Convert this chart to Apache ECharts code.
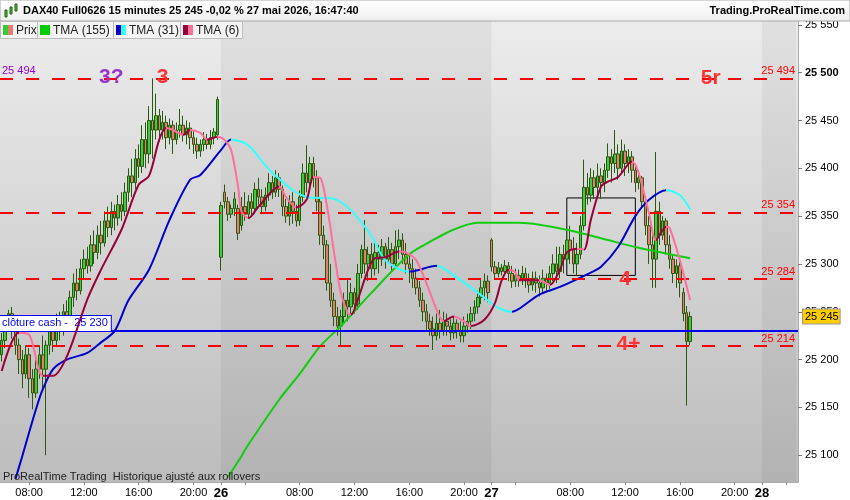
<!DOCTYPE html>
<html><head><meta charset="utf-8">
<script src="https://cdn.jsdelivr.net/npm/echarts@6/dist/echarts.min.js"></script>
<style>html,body{margin:0;padding:0;background:#fff}#c{width:850px;height:500px}</style>
</head><body><div id="c"></div>
<script>
// ---------- categories (15-minute bars) ----------
const days = ['25', '26', '27', '28'];
const dayFirst = ['06:00', '02:15', '02:15', '02:15'];
const dayLast = ['21:45', '21:45', '21:45', '04:45'];
const dayStartTime = '02:15';
const labelTimes = ['08:00', '12:00', '16:00', '20:00'];
const tickOnlyTimes = ['04:00'];

// ---------- candles [open, close, low, high] ----------
const day25 = [
[25205,25220,25198,25228],[25220,25235,25212,25245],[25235,25248,25230,25252],[25248,25230,25222,25255],
[25230,25215,25205,25238],[25215,25200,25185,25222],[25200,25185,25170,25210],[25185,25205,25180,25215],
[25205,25180,25160,25212],[25180,25165,25148,25190],[25165,25190,25160,25200],[25190,25205,25180,25215],
[25205,25190,25170,25225],[25190,25215,25100,25220],[25215,25230,25205,25245],[25230,25220,25208,25240],
[25220,25240,25215,25248],[25240,25232,25220,25250],[25232,25250,25225,25258],[25250,25245,25235,25262],
[25245,25265,25240,25272],[25265,25280,25255,25290],[25280,25272,25262,25295],[25272,25295,25268,25305],
[25295,25305,25285,25315],[25305,25298,25290,25318],[25298,25320,25292,25330],[25320,25312,25300,25335],
[25312,25330,25305,25340],[25330,25322,25310,25345],[25322,25345,25318,25355],[25345,25338,25328,25360],
[25338,25355,25330,25365],[25355,25348,25335,25362],[25348,25362,25340,25372],[25362,25355,25345,25375],
[25355,25375,25350,25385],[25375,25392,25365,25400],[25392,25385,25370,25410],[25385,25410,25378,25420],
[25410,25402,25390,25425],[25402,25430,25395,25445],[25430,25415,25400,25448],[25415,25450,25405,25465],
[25450,25440,25410,25494],[25440,25455,25430,25478],[25455,25440,25428,25462],[25440,25448,25430,25460],
[25448,25432,25420,25455],[25432,25445,25425,25452],[25445,25430,25415,25450],[25430,25440,25425,25448],
[25440,25445,25432,25462],[25445,25435,25428,25455],[25435,25442,25425,25450],[25442,25432,25420,25448],
[25432,25425,25415,25440],[25425,25418,25410,25432],[25418,25425,25412,25430],[25425,25430,25418,25438],
[25430,25425,25420,25436],[25425,25432,25420,25440],[25432,25438,25425,25442],[25435,25472,25430,25475]
];
const day26 = [
[25307,25361,25293,25365],[25375,25365,25358,25383],[25365,25352,25345,25370],[25352,25358,25348,25362],
[25358,25368,25350,25375],[25358,25332,25325,25362],[25340,25360,25335,25370],[25360,25352,25345,25375],
[25352,25365,25348,25372],[25365,25358,25350,25374],[25358,25378,25352,25385],[25378,25370,25362,25390],
[25370,25360,25352,25378],[25360,25372,25355,25380],[25372,25385,25366,25395],[25385,25375,25368,25392],
[25375,25390,25370,25398],[25390,25378,25370,25395],[25378,25360,25350,25382],[25360,25350,25343,25368],
[25350,25365,25340,25372],[25365,25355,25342,25375],[25355,25345,25339,25362],[25345,25370,25340,25377],
[25370,25395,25365,25405],[25395,25385,25375,25424],[25385,25405,25378,25412],[25405,25390,25380,25412],
[25390,25365,25355,25398],[25365,25330,25320,25370],[25330,25320,25305,25340],[25320,25280,25272,25325],
[25280,25262,25255,25300],[25262,25245,25235,25270],[25245,25235,25225,25255],[25235,25245,25215,25252],
[25245,25262,25238,25270],[25262,25255,25240,25285],[25255,25270,25245,25280],[25270,25258,25248,25275],
[25258,25290,25252,25300],[25290,25315,25285,25320],[25315,25300,25290,25346],[25300,25310,25282,25318],
[25310,25295,25285,25322],[25295,25312,25288,25325],[25312,25305,25290,25320],[25305,25318,25298,25326],
[25318,25305,25295,25322],[25305,25315,25300,25328],[25315,25300,25292,25322],[25300,25318,25295,25335],
[25318,25325,25305,25336],[25325,25310,25300,25332],[25310,25300,25290,25322],[25300,25295,25280,25310],
[25295,25285,25275,25305],[25285,25275,25268,25295],[25275,25262,25255,25282],[25262,25250,25240,25270],
[25250,25240,25231,25258],[25240,25232,25225,25248],[25232,25225,25210,25245],[25225,25238,25220,25248],
[25238,25230,25222,25252],[25230,25240,25225,25250],[25240,25235,25225,25248],[25235,25228,25220,25242],
[25228,25238,25222,25245],[25238,25230,25222,25242],[25230,25225,25218,25240],[25225,25235,25218,25245],
[25235,25240,25228,25248],[25240,25248,25232,25255],[25248,25255,25240,25262],[25255,25265,25248,25272],
[25265,25275,25258,25285],[25275,25282,25262,25290],[25282,25270,25260,25288]
];
const day27 = [
[25325,25297,25292,25327],[25297,25290,25285,25303],[25290,25296,25286,25302],[25296,25292,25288,25300],
[25292,25298,25290,25304],[25298,25290,25282,25302],[25290,25282,25275,25298],[25282,25288,25276,25295],
[25288,25283,25276,25294],[25283,25290,25278,25298],[25290,25284,25275,25296],[25284,25278,25270,25290],
[25278,25285,25272,25292],[25285,25280,25270,25292],[25280,25275,25266,25288],[25275,25285,25270,25294],
[25285,25280,25272,25290],[25280,25290,25274,25298],[25290,25300,25282,25310],[25300,25292,25280,25318],
[25292,25310,25285,25318],[25310,25305,25290,25320],[25305,25325,25298,25335],[25325,25315,25300,25340],
[25315,25300,25290,25328],[25300,25310,25288,25322],[25310,25340,25305,25350],[25340,25380,25335,25409],
[25380,25372,25362,25395],[25372,25390,25365,25400],[25390,25380,25368,25398],[25380,25392,25370,25405],
[25392,25385,25368,25400],[25385,25398,25375,25405],[25398,25412,25390,25426],[25412,25405,25385,25420],
[25405,25415,25395,25440],[25415,25400,25388,25425],[25400,25418,25395,25430],[25418,25405,25392,25425],
[25405,25412,25395,25420],[25412,25398,25385,25418],[25398,25385,25375,25402],[25385,25390,25378,25398],
[25390,25365,25358,25392],[25365,25340,25330,25370],[25340,25320,25300,25350],[25320,25305,25275,25330],
[25305,25355,25275,25417],[25355,25330,25320,25365],[25330,25345,25325,25350],[25345,25320,25310,25348],
[25320,25305,25295,25330],[25305,25290,25280,25310],[25290,25298,25275,25305],[25298,25280,25265,25302],
[25270,25248,25240,25275],[25249,25219,25152,25256],[25219,25245,25215,25250]
];

// ---------- moving averages: [bar index, value] read at visible knots ----------
const tma155 = [[66,25077],[70,25099],[72,25111],[81,25158],[87,25185],[93,25214],[99,25235],[108,25270],
  [119,25310],[125,25323],[132,25336],[139,25343],[151,25343],[157,25341],[166,25335],[177,25325],[186,25317],[201,25306]];
const tma31 = [[4,25075],[6,25099],[10,25148],[12,25169],[15,25190],[19,25200],[25,25207],[29,25218],[33,25230],
  [37,25262],[43,25294],[49,25346],[55,25388],[58,25393],[64,25419],[67,25430],[72,25424],[77,25403],[80,25392],
  [85,25377],[89,25370],[93,25369],[97,25368],[102,25356],[108,25329],[112,25304],[119,25292],[127,25298],
  [132,25288],[139,25270],[145,25254],[149,25250],[151,25253],[157,25268],[163,25276],[172,25291],[175,25297],
  [180,25318],[185,25350],[189,25367],[194,25377],[198,25372],[201,25357]];
const tma6 = [[0,25188],[5,25228],[8,25226],[12,25183],[15,25183],[19,25203],[25,25263],[29,25294],[35,25336],
  [40,25383],[43,25392],[46,25430],[48,25442],[50,25440],[53,25435],[55,25440],[58,25437],[60,25430],[63,25433],
  [65,25430],[67,25419],[69,25381],[70,25355],[72,25348],[75,25360],[81,25381],[83,25370],[86,25359],[89,25367],
  [91,25391],[93,25390],[95,25360],[97,25313],[99,25270],[101,25249],[102,25247],[104,25263],[107,25294],
  [109,25306],[112,25307],[116,25313],[118,25312],[121,25304],[124,25280],[127,25252],[129,25240],[132,25245],
  [135,25240],[137,25235],[141,25242],[144,25259],[146,25283],[148,25294],[150,25291],[151,25283],[157,25283],
  [160,25278],[163,25294],[165,25312],[168,25316],[170,25315],[172,25346],[175,25381],[177,25386],[180,25391],
  [184,25407],[186,25395],[189,25353],[191,25325],[194,25339],[195,25338],[198,25304],[201,25262]];

// ---------- levels and notes ----------
const redLevels = [25494, 25354, 25284, 25214];
const topLeftLevel = 25494;
const cashClose = 25230;
const lastPrice = 25245;
const notes = [['3?', 32, 25495, '#9933cc'], ['3', 47, 25495, '#ff3333'], ['5r', 207, 25494, '#ff3333'],
               ['4', 182, 25284, '#ff3333'], ['4+', 183, 25216, '#ff3333']];
const boxCorners = [[165, 25369], [185, 25288]];
const headerText = 'DAX40 Full0626 15 minutes 25 245 -0,02 % 27 mai 2026, 16:47:40';
const siteText = 'Trading.ProRealTime.com';
const footText = 'ProRealTime Trading  Historique ajusté aux rollovers';
const legendItems = [['Prix', '#33cc33', '#e87a70'], ['TMA (155)', '#00cc00', '#00cc00'],
                     ['TMA (31)', '#0000cc', '#33ffff'], ['TMA (6)', '#99003a', '#ff6f9a']];

// ---------- build ----------
const FONT = '"Liberation Sans", Arial, sans-serif';
const fmt = v => String(Math.round(v)).replace(/\B(?=(\d{3})+(?!\d))/g, ' ');
const cats = [];
days.forEach((d, k) => {
  const [h0, m0] = dayFirst[k].split(':').map(Number), [h1, m1] = dayLast[k].split(':').map(Number);
  for (let t = h0 * 60 + m0; t <= h1 * 60 + m1; t += 15) {
    cats.push(d + ' ' + String(Math.floor(t / 60)).padStart(2, '0') + ':' + String(t % 60).padStart(2, '0'));
  }
});
const candles = day25.concat(day26, day27);

function slopePieces(k, up, down) {
  const p = [];
  for (let j = 0; j < k.length - 1; j++) {
    const c = k[j + 1][1] >= k[j][1] ? up : down;
    const last = p[p.length - 1];
    if (last && last.color === c) last.lt = k[j + 1][0];
    else p.push({ gte: k[j][0], lt: k[j + 1][0], color: c });
  }
  p[0].gte = -10;
  p[p.length - 1].lt = 10000;
  return p;
}

const lg = (a, b) => new echarts.graphic.LinearGradient(0, 0, 0, 1, [{ offset: 0, color: a }, { offset: 1, color: b }]);

const redLine = { color: '#ff0000', type: [13, 13], width: 2 };
const markLines = [];
redLevels.forEach(v => markLines.push({
  yAxis: v, lineStyle: redLine,
  label: { show: true, position: 'insideEndTop', distance: [3, 2], formatter: fmt(v), color: '#ff0000', fontSize: 11, fontFamily: FONT }
}));
markLines.push({
  yAxis: topLeftLevel, lineStyle: redLine,
  label: { show: true, position: 'insideStartTop', distance: [2, 2], formatter: fmt(topLeftLevel), color: '#9900cc', fontSize: 11, fontFamily: FONT }
});
markLines.push({
  yAxis: cashClose, lineStyle: { color: '#0000ee', type: 'solid', width: 2 },
  label: { show: true, position: 'insideStartTop', distance: [0, 0], formatter: 'clôture cash -  ' + fmt(cashClose),
    color: '#0000ee', fontSize: 11, fontFamily: FONT, backgroundColor: '#fff', borderColor: '#0000ee', borderWidth: 1, padding: [2, 3, 2, 2] }
});
markLines.push({
  yAxis: lastPrice, lineStyle: { color: 'rgba(0,0,0,0)', width: 0 },
  label: { show: true, position: 'end', distance: 5, formatter: fmt(lastPrice), color: '#000', fontSize: 11, fontFamily: FONT,
    backgroundColor: '#ffcc00', borderColor: '#999', borderWidth: 1, padding: [2, 1, 1, 2] }
});

const dayIdx = d => cats.indexOf(d + ' ' + dayStartTime);

const graphics = [
  { type: 'rect', z: 100, shape: { x: 0, y: 0, width: 850, height: 21 }, style: { fill: lg('#ffffff', '#eeeeee'), stroke: '#aaaaaa', lineWidth: 1 } },
  { type: 'text', z: 101, left: 23, top: 5, style: { text: headerText, font: 'bold 11px ' + FONT, fill: '#000' } },
  { type: 'text', z: 101, right: 5, top: 5, style: { text: siteText, font: 'bold 11px ' + FONT, fill: '#000' } },
  { type: 'rect', z: 101, shape: { x: 5, y: 10, width: 2, height: 7 }, style: { fill: '#33cc33', stroke: '#2a5a10', lineWidth: 1 } },
  { type: 'rect', z: 101, shape: { x: 10, y: 7, width: 2, height: 7 }, style: { fill: '#33cc33', stroke: '#2a5a10', lineWidth: 1 } },
  { type: 'rect', z: 101, shape: { x: 15, y: 4, width: 2, height: 7 }, style: { fill: '#33cc33', stroke: '#2a5a10', lineWidth: 1 } },
  { type: 'text', z: 101, left: 3, top: 471, style: { text: footText, font: '11px ' + FONT, fill: '#222' } }
];
const boxX = [0, 37, 113, 180, 242];
legendItems.forEach((it, k) => {
  const x0 = boxX[k], w = boxX[k + 1] - x0;
  graphics.push({ type: 'rect', z: 100, shape: { x: x0 + 0.5, y: 21.5, width: w, height: 17 }, style: { fill: '#f4f4f4', stroke: '#bcbcbc', lineWidth: 1 } });
  graphics.push({ type: 'rect', z: 101, shape: { x: x0 + 3, y: 25, width: 5, height: 10 }, style: { fill: it[1] } });
  graphics.push({ type: 'rect', z: 101, shape: { x: x0 + 8, y: 25, width: 5, height: 10 }, style: { fill: it[2] } });
  graphics.push({ type: 'text', z: 101, left: x0 + 16, top: 24.5, style: { text: it[0], font: '12px ' + FONT, fill: '#222' } });
});

const chart = echarts.init(document.getElementById('c'), null, { renderer: 'canvas' });
chart.setOption({
  animation: false,
  backgroundColor: '#fff',
  grid: { left: 0, right: 52, top: 21, bottom: 18, show: true, borderWidth: 0, backgroundColor: lg('#ececec', '#bcbcbc') },
  xAxis: {
    type: 'category', data: cats, boundaryGap: true,
    axisLine: { show: true, lineStyle: { color: '#aaa' } },
    axisTick: { show: true, alignWithLabel: true, length: 3, lineStyle: { color: '#888' },
      interval: (i, v) => { const t = v.split(' ')[1]; return t === dayStartTime || labelTimes.includes(t) || tickOnlyTimes.includes(t); } },
    axisLabel: {
      margin: 5, color: '#000', fontSize: 11, fontFamily: FONT,
      interval: (i, v) => { const t = v.split(' ')[1]; return t === dayStartTime || labelTimes.includes(t); },
      formatter: v => { const [d, t] = v.split(' '); return t === dayStartTime ? '{d|' + d + '}' : t; },
      rich: { d: { fontWeight: 'bold', fontSize: 13, fontFamily: FONT, color: '#000' } }
    },
    splitLine: { show: false }
  },
  yAxis: {
    type: 'value', position: 'right', min: 25072, max: 25554, splitNumber: 10, minInterval: 50, maxInterval: 50, scale: true,
    axisLine: { show: true, lineStyle: { color: '#aaa' } },
    axisTick: { show: true, length: 4, lineStyle: { color: '#777' } },
    axisLabel: { color: '#000', fontSize: 11, fontFamily: FONT, margin: 7, showMinLabel: false, showMaxLabel: false,
      formatter: v => (v % 50 !== 0 ? '' : (v % 500 === 0 ? '{b|' + fmt(v) + '}' : fmt(v))),
      rich: { b: { fontWeight: 'bold', fontSize: 11, fontFamily: FONT, color: '#000' } } },
    splitLine: { show: false }
  },
  visualMap: [
    { show: false, type: 'piecewise', seriesIndex: 3, dimension: 0, pieces: slopePieces(tma31, '#0000cc', '#33ffff') },
    { show: false, type: 'piecewise', seriesIndex: 4, dimension: 0, pieces: slopePieces(tma6, '#99003a', '#ff6f9a') }
  ],
  series: [
    { type: 'line', data: [], z: 1, silent: true,
      markArea: { silent: true, itemStyle: { color: lg('#e0e0e0', '#b2b2b2') },
        data: [[{ xAxis: cats[dayIdx('26')] }, { xAxis: cats[dayIdx('27')] }], [{ xAxis: cats[dayIdx('28')] }, { xAxis: cats[cats.length - 1] }]] } },
    { type: 'candlestick', data: candles, z: 3, barWidth: 3,
      itemStyle: { color: '#3ccc3c', color0: '#e87a70', borderColor: '#2a5a10', borderColor0: '#2a5a10', borderWidth: 1 } },
    { type: 'line', data: tma155, z: 4, smooth: 0.3, symbol: 'none', lineStyle: { color: '#11cc11', width: 2 } },
    { type: 'line', data: tma31, z: 4, smooth: 0.3, symbol: 'none', lineStyle: { width: 2 } },
    { type: 'line', data: tma6, z: 5, smooth: 0.3, symbol: 'none', lineStyle: { width: 2 } },
    { type: 'line', data: [], z: 6, silent: true,
      markLine: { silent: true, symbol: ['none', 'none'], precision: 0, data: markLines },
      markArea: { silent: true, itemStyle: { color: 'rgba(0,0,0,0)', borderColor: '#000', borderWidth: 1 },
        data: [[{ xAxis: boxCorners[0][0], yAxis: boxCorners[0][1] }, { xAxis: boxCorners[1][0], yAxis: boxCorners[1][1] }]] },
      markPoint: { silent: true, symbol: 'rect', symbolSize: 1, itemStyle: { color: 'rgba(0,0,0,0)' },
        data: notes.map(n => ({ coord: [n[1], n[2]],
          label: { show: true, position: 'inside', formatter: n[0], color: n[3], fontSize: 21, fontWeight: 'bold', fontFamily: FONT } })) } }
  ],
  graphic: graphics
});
</script></body></html>
